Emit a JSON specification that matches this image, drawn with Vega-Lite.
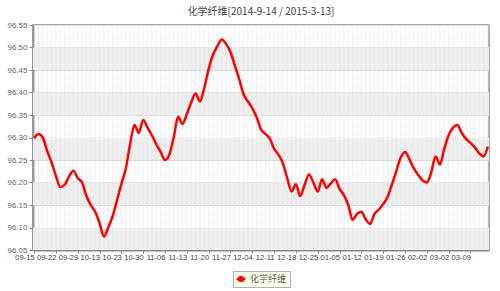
{
  "$schema": "https://vega.github.io/schema/vega-lite/v6.json",
  "width": 456,
  "height": 225,
  "autosize": {"type": "none"},
  "padding": {"left": 33, "top": 25, "right": 11, "bottom": 41},
  "background": "#ffffff",
  "config": {
    "font": "Liberation Sans",
    "view": {"stroke": "#a8a8a8", "strokeWidth": 2},
    "axisY": {"labelOverlap": false, "labelFlush": false},
    "title": {"font": "Noto Sans CJK SC", "fontSize": 10, "fontWeight": "normal", "color": "#444444", "offset": 4}
  },
  "title": {"text": "化学纤维[2014-9-14 / 2015-3-13]", "anchor": "middle"},
  "layer": [
    {
      "data": {"values": [
        {"lo": 96.45, "hi": 96.50},
        {"lo": 96.35, "hi": 96.40},
        {"lo": 96.25, "hi": 96.30},
        {"lo": 96.15, "hi": 96.20},
        {"lo": 96.05, "hi": 96.10}
      ]},
      "mark": {"type": "rect", "fill": "#efefef"},
      "encoding": {
        "y": {"field": "lo", "type": "quantitative", "scale": {"domain": [96.05, 96.55], "nice": false, "zero": false},
          "axis": {"values": [96.05, 96.10, 96.15, 96.20, 96.25, 96.30, 96.35, 96.40, 96.45, 96.50, 96.55], "format": ".2f", "title": null,
            "labelFontSize": 8, "labelColor": "#666666", "labelOverlap": false, "labelFlush": false, "tickColor": "#888888", "tickSize": 4, "labelPadding": 2,
            "domainColor": "#888888", "domainWidth": 2, "grid": true, "gridColor": "#dddddd", "gridWidth": 1}},
        "y2": {"field": "hi"}
      }
    },
    {
      "data": {"name": "main"},
      "mark": {"type": "rule", "stroke": "#e2e2e2", "strokeDash": [1, 1], "strokeWidth": 1},
      "encoding": {
        "x": {"field": "d", "type": "ordinal", "sort": null}
      }
    },
    {
      "data": {"name": "main"},
      "mark": {"type": "line", "interpolate": "monotone", "strokeWidth": 2.5},
      "encoding": {
        "x": {"field": "d", "type": "ordinal", "sort": null, "scale": {"type": "point", "padding": 0.25},
          "axis": {"values": ["09-15","09-22","09-29","10-13","10-23","10-30","11-06","11-13","11-20","11-27","12-04","12-11","12-18","12-25","01-05","01-12","01-19","01-26","02-02","03-02","03-09"],
            "title": null, "labelAngle": 0, "labelFontSize": 7.6, "labelColor": "#444444", "labelOverlap": false,
            "tickColor": "#888888", "tickSize": 3, "labelPadding": 4, "domainColor": "#888888", "domainWidth": 2, "grid": false}},
        "y": {"field": "v", "type": "quantitative",
          "axis": {"values": [96.05, 96.10, 96.15, 96.20, 96.25, 96.30, 96.35, 96.40, 96.45, 96.50, 96.55], "format": ".2f", "title": null,
            "labelFontSize": 8, "labelColor": "#666666", "labelOverlap": false, "labelFlush": false, "tickColor": "#888888", "tickSize": 4, "labelPadding": 2,
            "domainColor": "#888888", "domainWidth": 2, "grid": true, "gridColor": "#dddddd", "gridWidth": 1}},
        "color": {"field": "s", "type": "nominal", "scale": {"range": ["#ff0000"]},
          "legend": {"title": null, "orient": "none", "legendX": 200, "legendY": 246, "direction": "horizontal",
            "fillColor": "#ffffee", "strokeColor": "#b0b0b0", "padding": 3,
            "labelFont": "Noto Sans CJK SC", "labelFontSize": 9, "labelColor": "#555555",
            "symbolType": "M-1,0 C-0.6,-0.8 0.6,-0.8 1,0 C0.6,0.8 -0.6,0.8 -1,0 Z", "symbolSize": 70,
            "symbolFillColor": "#ff0000", "symbolStrokeColor": "#cc0000", "symbolStrokeWidth": 1}}
      }
    }
  ],
  "datasets": {
    "main": [
      {"d":"09-15","v":96.298,"s":"化学纤维"},{"d":"09-16","v":96.308,"s":"化学纤维"},{"d":"09-17","v":96.300,"s":"化学纤维"},{"d":"09-18","v":96.270,"s":"化学纤维"},{"d":"09-19","v":96.245,"s":"化学纤维"},
      {"d":"09-22","v":96.215,"s":"化学纤维"},{"d":"09-23","v":96.190,"s":"化学纤维"},{"d":"09-24","v":96.195,"s":"化学纤维"},{"d":"09-25","v":96.213,"s":"化学纤维"},{"d":"09-26","v":96.226,"s":"化学纤维"},
      {"d":"09-29","v":96.210,"s":"化学纤维"},{"d":"09-30","v":96.200,"s":"化学纤维"},{"d":"10-08","v":96.170,"s":"化学纤维"},{"d":"10-09","v":96.150,"s":"化学纤维"},{"d":"10-10","v":96.135,"s":"化学纤维"},
      {"d":"10-13","v":96.110,"s":"化学纤维"},{"d":"10-14","v":96.080,"s":"化学纤维"},{"d":"10-15","v":96.100,"s":"化学纤维"},{"d":"10-16","v":96.125,"s":"化学纤维"},{"d":"10-17","v":96.160,"s":"化学纤维"},
      {"d":"10-23","v":96.197,"s":"化学纤维"},{"d":"10-24","v":96.230,"s":"化学纤维"},{"d":"10-27","v":96.285,"s":"化学纤维"},{"d":"10-28","v":96.328,"s":"化学纤维"},{"d":"10-29","v":96.310,"s":"化学纤维"},
      {"d":"10-30","v":96.339,"s":"化学纤维"},{"d":"10-31","v":96.322,"s":"化学纤维"},{"d":"11-03","v":96.305,"s":"化学纤维"},{"d":"11-04","v":96.285,"s":"化学纤维"},{"d":"11-05","v":96.268,"s":"化学纤维"},
      {"d":"11-06","v":96.250,"s":"化学纤维"},{"d":"11-07","v":96.262,"s":"化学纤维"},{"d":"11-10","v":96.300,"s":"化学纤维"},{"d":"11-11","v":96.346,"s":"化学纤维"},{"d":"11-12","v":96.330,"s":"化学纤维"},
      {"d":"11-13","v":96.352,"s":"化学纤维"},{"d":"11-14","v":96.378,"s":"化学纤维"},{"d":"11-17","v":96.398,"s":"化学纤维"},{"d":"11-18","v":96.380,"s":"化学纤维"},{"d":"11-19","v":96.410,"s":"化学纤维"},
      {"d":"11-20","v":96.452,"s":"化学纤维"},{"d":"11-21","v":96.484,"s":"化学纤维"},{"d":"11-24","v":96.503,"s":"化学纤维"},{"d":"11-25","v":96.518,"s":"化学纤维"},{"d":"11-26","v":96.508,"s":"化学纤维"},
      {"d":"11-27","v":96.490,"s":"化学纤维"},{"d":"11-28","v":96.460,"s":"化学纤维"},{"d":"12-01","v":96.430,"s":"化学纤维"},{"d":"12-02","v":96.396,"s":"化学纤维"},{"d":"12-03","v":96.380,"s":"化学纤维"},
      {"d":"12-04","v":96.365,"s":"化学纤维"},{"d":"12-05","v":96.345,"s":"化学纤维"},{"d":"12-08","v":96.318,"s":"化学纤维"},{"d":"12-09","v":96.308,"s":"化学纤维"},{"d":"12-10","v":96.298,"s":"化学纤维"},
      {"d":"12-11","v":96.275,"s":"化学纤维"},{"d":"12-12","v":96.262,"s":"化学纤维"},{"d":"12-15","v":96.243,"s":"化学纤维"},{"d":"12-16","v":96.210,"s":"化学纤维"},{"d":"12-17","v":96.180,"s":"化学纤维"},
      {"d":"12-18","v":96.196,"s":"化学纤维"},{"d":"12-19","v":96.170,"s":"化学纤维"},{"d":"12-22","v":96.195,"s":"化学纤维"},{"d":"12-23","v":96.218,"s":"化学纤维"},{"d":"12-24","v":96.200,"s":"化学纤维"},
      {"d":"12-25","v":96.180,"s":"化学纤维"},{"d":"12-26","v":96.207,"s":"化学纤维"},{"d":"12-29","v":96.188,"s":"化学纤维"},{"d":"12-30","v":96.198,"s":"化学纤维"},{"d":"12-31","v":96.207,"s":"化学纤维"},
      {"d":"01-05","v":96.186,"s":"化学纤维"},{"d":"01-06","v":96.172,"s":"化学纤维"},{"d":"01-07","v":96.150,"s":"化学纤维"},{"d":"01-08","v":96.117,"s":"化学纤维"},{"d":"01-09","v":96.130,"s":"化学纤维"},
      {"d":"01-12","v":96.135,"s":"化学纤维"},{"d":"01-13","v":96.118,"s":"化学纤维"},{"d":"01-14","v":96.108,"s":"化学纤维"},{"d":"01-15","v":96.130,"s":"化学纤维"},{"d":"01-16","v":96.140,"s":"化学纤维"},
      {"d":"01-19","v":96.152,"s":"化学纤维"},{"d":"01-20","v":96.168,"s":"化学纤维"},{"d":"01-21","v":96.195,"s":"化学纤维"},{"d":"01-22","v":96.225,"s":"化学纤维"},{"d":"01-23","v":96.255,"s":"化学纤维"},
      {"d":"01-26","v":96.268,"s":"化学纤维"},{"d":"01-27","v":96.252,"s":"化学纤维"},{"d":"01-28","v":96.232,"s":"化学纤维"},{"d":"01-29","v":96.217,"s":"化学纤维"},{"d":"01-30","v":96.205,"s":"化学纤维"},
      {"d":"02-02","v":96.200,"s":"化学纤维"},{"d":"02-03","v":96.222,"s":"化学纤维"},{"d":"02-04","v":96.258,"s":"化学纤维"},{"d":"02-05","v":96.240,"s":"化学纤维"},{"d":"02-06","v":96.275,"s":"化学纤维"},
      {"d":"03-02","v":96.305,"s":"化学纤维"},{"d":"03-03","v":96.322,"s":"化学纤维"},{"d":"03-04","v":96.328,"s":"化学纤维"},{"d":"03-05","v":96.310,"s":"化学纤维"},{"d":"03-06","v":96.297,"s":"化学纤维"},
      {"d":"03-09","v":96.288,"s":"化学纤维"},{"d":"03-10","v":96.278,"s":"化学纤维"},{"d":"03-11","v":96.265,"s":"化学纤维"},{"d":"03-12","v":96.258,"s":"化学纤维"},{"d":"03-13","v":96.280,"s":"化学纤维"}
    ]
  }
}
